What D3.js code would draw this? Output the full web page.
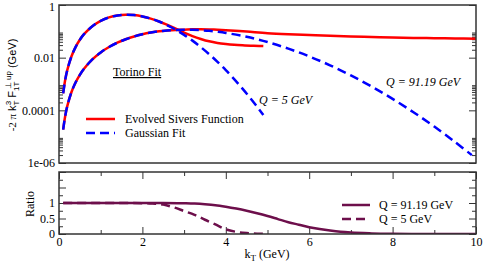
<!DOCTYPE html>
<html><head><meta charset="utf-8">
<script src="https://cdn.jsdelivr.net/npm/d3@7"></script>
<style>
body{margin:0;background:#fff}
</style>
</head><body>
<svg id="c" width="484" height="265"></svg>
<script>
// ---------- data ----------
const kQ5 = [0.1,0.15,0.2,0.3,0.4,0.5,0.6,0.8,1.0,1.2,1.4,1.6,1.8,2.0,2.2,2.4,2.6,2.8,3.0,3.2,3.4,3.6,3.8,4.0,4.2,4.4,4.6,4.8,4.9];
const gaussQ5 = [4.40e-4,1.47e-3,3.45e-3,0.0113,0.0258,0.048,0.0778,0.157,0.251,0.338,0.400,0.426,0.413,0.369,0.305,0.236,0.170,0.115,0.0736,0.0444,0.0252,0.0136,0.00693,0.00335,0.00153,6.67e-4,2.75e-4,1.08e-4,6.65e-5];
const evolvedQ5 = [4.40e-4,1.47e-3,3.45e-3,0.0113,0.0258,0.048,0.0778,0.157,0.251,0.338,0.400,0.426,0.413,0.369,0.305,0.236,0.174,0.126,0.089,0.066,0.0513,0.0417,0.0363,0.0331,0.0309,0.0295,0.0285,0.0279,0.0275];

const kQ91g = [0.1,0.15,0.2,0.3,0.4,0.5,0.6,0.8,1.0,1.2,1.4,1.6,1.8,2.0,2.2,2.4,2.6,2.8,3.0,3.2,3.4,3.6,3.8,4.0,4.5,5.0,5.5,6.0,6.5,7.0,7.5,8.0,8.5,9.0,9.5,9.9];
const gaussQ91 = [1.86e-5,6.25e-5,1.48e-4,4.95e-4,1.16e-3,2.23e-3,3.78e-3,8.59e-3,0.0158,0.0254,0.0371,0.0501,0.0640,0.0774,0.0897,0.1005,0.1084,0.1132,0.1153,0.1143,0.1104,0.1045,0.0964,0.0871,0.0619,0.0391,0.0220,0.01117,5.12e-3,2.12e-3,7.96e-4,2.72e-4,8.47e-5,2.41e-5,6.24e-6,1.99e-6];
const kQ91e = [0.1,0.15,0.2,0.3,0.4,0.5,0.6,0.8,1.0,1.2,1.4,1.6,1.8,2.0,2.2,2.4,2.6,2.8,3.0,3.2,3.4,3.6,3.8,4.0,4.5,5.0,5.5,6.0,6.5,7.0,7.5,8.0,8.5,9.0,9.5,10.0];
const evolvedQ91 = [1.86e-5,6.25e-5,1.48e-4,4.95e-4,1.16e-3,2.23e-3,3.78e-3,8.59e-3,0.0158,0.0254,0.0371,0.0501,0.0640,0.0774,0.0897,0.1005,0.1084,0.1135,0.116,0.119,0.119,0.1175,0.115,0.111,0.0977,0.0851,0.0776,0.0724,0.0676,0.0638,0.0610,0.0582,0.0562,0.0550,0.0537,0.0525];

const kRatio91 = [0.1,0.5,1,1.5,2,2.5,3,3.25,3.5,3.75,4,4.25,4.5,4.75,5,5.25,5.5,5.75,6,6.25,6.5,6.75,7,7.5,8,8.5,9,9.5,10];
const ratio91 = [1,1,1,1,1,1,0.99,0.98,0.96,0.93,0.88,0.82,0.75,0.67,0.58,0.48,0.38,0.30,0.22,0.16,0.11,0.07,0.045,0.02,0.008,0.003,0.001,0,0];
const kRatio5 = [0.1,0.5,1,1.5,2,2.25,2.5,2.75,3,3.25,3.5,3.75,4,4.25,4.5,4.75,4.9];
const ratio5 = [1,1,1,1,0.995,0.98,0.95,0.86,0.74,0.62,0.46,0.31,0.15,0.07,0.03,0.01,0.005];

const xTicks = [0,2,4,6,8,10];
const xMinor = [1,3,5,7,9];
const yTopTicks = [1,0.01,1e-4,1e-6];
const yTopLabels = ["1","0.01","0.0001","1e-06"];
const yBotTicks = [0,0.5,1,1.5,2];
const yBotLabels = ["0","0.5","1","",""];
const yBotMinor = [0.25,0.75,1.25,1.75];

// ---------- layout ----------
const SERIF = "'Liberation Serif','Times New Roman',Times,'DejaVu Serif',serif";
const SANS = "'Liberation Sans',Arial,Helvetica,sans-serif";
const FS = 12;
const svg = d3.select("#c");
const L = 59, R = 476, T1 = 5, B1 = 163, T2 = 172, B2 = 234;
const RED = "#ff0000", BLUE = "#0000ff", PUR = "#6d0f4b", AX = "#333";

const x = d3.scaleLinear().domain([0,10]).range([L,R]);
const yTop = d3.scaleLog().domain([1e-6,1]).range([B1,T1]);
const yBot = d3.scaleLinear().domain([0,2]).range([B2,T2]);

const yTopMinor = [];
[-6,-4,-2].forEach(e => { for (let m=2;m<=9;m++) yTopMinor.push(m*Math.pow(10,e)); });

const defs = svg.append("defs");
defs.append("clipPath").attr("id","cTop").append("rect").attr("x",L).attr("y",T1).attr("width",R-L).attr("height",B1-T1);
defs.append("clipPath").attr("id","cBot").append("rect").attr("x",L).attr("y",T2).attr("width",R-L).attr("height",B2-T2);

function styleAxis(g){
  g.select(".domain").remove();
  g.selectAll(".tick line").attr("stroke",AX).attr("stroke-width",1);
  g.selectAll(".tick text").style("font-family",SERIF).style("font-size",FS+"px").attr("fill","#000");
}
function txt(xp,yp,s){
  return svg.append("text").attr("x",xp).attr("y",yp).style("font-family",SERIF).style("font-size",FS+"px").attr("fill","#000").text(s);
}

// top panel axes
const gyl = svg.append("g").attr("transform",`translate(${L},0)`)
  .call(d3.axisLeft(yTop).tickValues(yTopTicks).tickSize(-7).tickPadding(4).tickFormat((d,i)=>yTopLabels[i]))
  .call(styleAxis);
gyl.selectAll(".tick text").filter(d=>d===1).attr("y",2);
svg.append("g").attr("transform",`translate(${L},0)`)
  .call(d3.axisLeft(yTop).tickValues(yTopMinor).tickSize(-4).tickFormat(""))
  .call(styleAxis);
svg.append("g").attr("transform",`translate(${R},0)`)
  .call(d3.axisRight(yTop).tickValues(yTopTicks).tickSize(-7).tickFormat(""))
  .call(styleAxis);
svg.append("g").attr("transform",`translate(${R},0)`)
  .call(d3.axisRight(yTop).tickValues(yTopMinor).tickSize(-4).tickFormat(""))
  .call(styleAxis);

// bottom panel axes
svg.append("g").attr("transform",`translate(0,${B2})`)
  .call(d3.axisBottom(x).tickValues(xTicks).tickSize(-7).tickPadding(3).tickFormat(d3.format("d")))
  .call(styleAxis);
svg.append("g").attr("transform",`translate(0,${B2})`)
  .call(d3.axisBottom(x).tickValues(xMinor).tickSize(-4).tickFormat(""))
  .call(styleAxis);
svg.append("g").attr("transform",`translate(0,${T2})`)
  .call(d3.axisTop(x).tickValues(xTicks).tickSize(-7).tickFormat(""))
  .call(styleAxis);
svg.append("g").attr("transform",`translate(0,${T2})`)
  .call(d3.axisTop(x).tickValues(xMinor).tickSize(-4).tickFormat(""))
  .call(styleAxis);
svg.append("g").attr("transform",`translate(${L},0)`)
  .call(d3.axisLeft(yBot).tickValues(yBotTicks).tickSize(-7).tickPadding(4).tickFormat((d,i)=>yBotLabels[i]))
  .call(styleAxis);
svg.append("g").attr("transform",`translate(${L},0)`)
  .call(d3.axisLeft(yBot).tickValues(yBotMinor).tickSize(-4).tickFormat(""))
  .call(styleAxis);
svg.append("g").attr("transform",`translate(${R},0)`)
  .call(d3.axisRight(yBot).tickValues(yBotTicks).tickSize(-7).tickFormat(""))
  .call(styleAxis);
svg.append("g").attr("transform",`translate(${R},0)`)
  .call(d3.axisRight(yBot).tickValues(yBotMinor).tickSize(-4).tickFormat(""))
  .call(styleAxis);

// curves
const lineTop = d3.line().x(d=>x(d[0])).y(d=>yTop(d[1])).curve(d3.curveCatmullRom);
const lineBot = d3.line().x(d=>x(d[0])).y(d=>yBot(d[1])).curve(d3.curveMonotoneX);
const zip = (a,b) => a.map((v,i)=>[v,b[i]]);

const gTop = svg.append("g").attr("clip-path","url(#cTop)");
[[kQ5,evolvedQ5],[kQ91e,evolvedQ91]].forEach(([k,v]) => {
  gTop.append("path").attr("d",lineTop(zip(k,v))).attr("fill","none").attr("stroke",RED).attr("stroke-width",2.5);
});
[[kQ5,gaussQ5],[kQ91g,gaussQ91]].forEach(([k,v]) => {
  gTop.append("path").attr("d",lineTop(zip(k,v))).attr("fill","none").attr("stroke",BLUE).attr("stroke-width",2.5).attr("stroke-dasharray","9,5");
});

const gBot = svg.append("g").attr("clip-path","url(#cBot)");
gBot.append("path").attr("d",lineBot(zip(kRatio91,ratio91))).attr("fill","none").attr("stroke",PUR).attr("stroke-width",2.5);
gBot.append("path").attr("d",lineBot(zip(kRatio5,ratio5))).attr("fill","none").attr("stroke",PUR).attr("stroke-width",2.5).attr("stroke-dasharray","9,5");

// frames
svg.append("rect").attr("x",L).attr("y",T1).attr("width",R-L).attr("height",B1-T1).attr("fill","none").attr("stroke",AX).attr("stroke-width",1.5);
svg.append("rect").attr("x",L).attr("y",T2).attr("width",R-L).attr("height",B2-T2).attr("fill","none").attr("stroke",AX).attr("stroke-width",1.5);

// top legend
const leg = [{c:RED,d:null,t:"Evolved Sivers Function",y:119},{c:BLUE,d:"9,5",t:"Gaussian Fit",y:133}];
leg.forEach(e=>{
  svg.append("line").attr("x1",86).attr("x2",115).attr("y1",e.y).attr("y2",e.y).attr("stroke",e.c).attr("stroke-width",2.5).attr("stroke-dasharray",e.d);
  txt(125,e.y+4,e.t);
});
// bottom legend
const leg2 = [{d:null,t:"Q = 91.19 GeV",y:205},{d:"9,5",t:"Q = 5 GeV",y:219}];
leg2.forEach(e=>{
  svg.append("line").attr("x1",342).attr("x2",370).attr("y1",e.y).attr("y2",e.y).attr("stroke",PUR).attr("stroke-width",2.5).attr("stroke-dasharray",e.d);
  txt(379,e.y+4,e.t);
});

// annotations
txt(113,76,"Torino Fit").attr("text-decoration","underline");
txt(259,104,"Q = 5 GeV").style("font-style","italic");
txt(386,86,"Q = 91.19 GeV").style("font-style","italic");

// axis titles
const xl = txt(267,258,null).attr("text-anchor","middle");
xl.append("tspan").text("k");
xl.append("tspan").style("font-size","9px").attr("dy",3).text("T");
xl.append("tspan").attr("dy",-3).text(" (GeV)");

txt(0,0,"Ratio").attr("transform","translate(34,204) rotate(-90)").attr("text-anchor","middle");

const yl = txt(0,0,null).attr("transform","translate(16,85) rotate(-90)").attr("text-anchor","middle").style("font-size","11px");
yl.append("tspan").text("-2 \u03c0 ");
yl.append("tspan").style("font-family",SANS).text("k");
yl.append("tspan").style("font-family",SANS).style("font-size","8px").attr("dy",3).text("T");
yl.append("tspan").style("font-family",SANS).style("font-size","8px").attr("dy",-8.5).attr("dx",-4.5).text("3");
yl.append("tspan").style("font-family",SANS).attr("dy",5.5).attr("dx",3).text("F");
yl.append("tspan").style("font-family",SANS).style("font-size","8px").attr("dy",3).text("1T");
yl.append("tspan").style("font-family",SANS).style("font-size","8px").attr("dy",-8.5).attr("dx",-7.5).text("\u22a5 up");
yl.append("tspan").style("font-family",SANS).attr("dy",5.5).attr("dx",3).text("(GeV)");
</script>
</body></html>
